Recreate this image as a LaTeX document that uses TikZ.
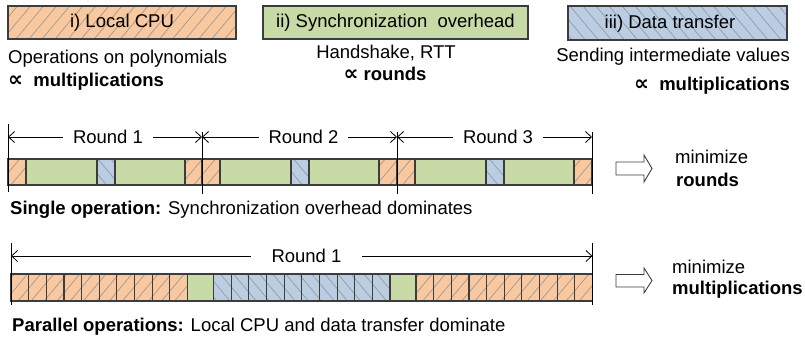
\documentclass[tikz,border=0pt]{standalone}
\usepackage{fontspec}
\setmainfont{Liberation Sans}
\newfontfamily\symfont{DejaVu Sans}
\usetikzlibrary{patterns.meta,arrows.meta}
\definecolor{cpu}{HTML}{F9C89E}
\definecolor{sync}{HTML}{C8DAA6}
\definecolor{xfer}{HTML}{BBCDE3}
\definecolor{edgec}{HTML}{3C3C3C}
\definecolor{hatch}{HTML}{9A9A9A}
\newcommand{\propsym}{{\fontsize{21}{22}\symfont\bfseries ∝}}
\tikzset{
  cpubox/.style={draw=edgec, line width=1.1pt, preaction={fill=cpu},
    pattern={Lines[angle=50,distance=10pt,line width=0.7pt]}, pattern color=hatch},
  syncbox/.style={draw=edgec, line width=1.1pt, fill=sync},
  xferbox/.style={draw=edgec, line width=1.1pt, preaction={fill=xfer},
    pattern={Lines[angle=-50,distance=10pt,line width=0.7pt]}, pattern color=hatch},
  txt/.style={inner sep=0pt, font=\fontsize{18.5}{22}\selectfont},
  dimline/.style={line width=0.8pt, {Straight Barb[length=6pt,width=11pt]}-{Straight Barb[length=6pt,width=11pt]}},
  tickline/.style={line width=0.9pt, draw=black},
  roundlbl/.style={txt, fill=white, inner xsep=10pt, inner ysep=3pt},
  bigarrow/.style={draw=edgec, line width=0.9pt, fill=white},
}
\begin{document}
\begin{tikzpicture}[x=1pt,y=-1pt]
\useasboundingbox (0,0) rectangle (805,338);

% legend boxes
\node[cpubox, txt, minimum width=228pt, minimum height=33pt] (cpu) at (122,22.5) {i) Local CPU};
\node[syncbox, txt, minimum width=265pt, minimum height=33pt] (sync) at (395.5,22.5) {ii) Synchronization\ \ overhead};
\node[xferbox, minimum width=219pt, minimum height=34pt] (xfer) at (677.5,23) {};
\node[txt] (xferlbl) at (670,23.5) {iii) Data transfer};

% descriptions
\node[txt, anchor=base west] (d1a) at (8,63) {Operations on polynomials};
\node[txt, anchor=base west] (d1b) at (8,86) {\propsym\ \ \textbf{multiplications}};
\node[txt, anchor=base] (d2a) at (386,58) {Handshake, RTT};
\node[txt, anchor=base] (d2b) at (385,80) {\propsym\ \textbf{rounds}};
\node[txt, anchor=base east] (d3a) at (790,61) {Sending intermediate values};
\node[txt, anchor=base east] (d3b) at (790,90) {\propsym\ \ \textbf{multiplications}};

% ---- row 1 ----
\foreach \o in {8,202,397}{
  \path[cpubox]  (\o,159) rectangle ({\o+18},185);
  \path[syncbox] ({\o+18},159) rectangle ({\o+89},185);
  \path[xferbox] ({\o+89},159) rectangle ({\o+107},185);
  \path[syncbox] ({\o+107},159) rectangle ({\o+177},185);
  \path[cpubox]  ({\o+177},159) rectangle ({\o+195},185);
}
\coordinate (s0) at (8,137);
\coordinate (s1) at (202,137);
\coordinate (s2) at (397,137);
\coordinate (s3) at (592,137);
\draw[tickline] (8,124) -- (8,192);
\draw[tickline] (202,132) -- (202,194);
\draw[tickline] (397,132) -- (397,194);
\draw[tickline] (592,132) -- (592,194);
\draw[dimline] (s0) -- (s1);
\draw[dimline] (s1) -- (s2);
\draw[dimline] (s2) -- (s3);
\node[roundlbl] (r1) at (108,137) {Round 1};
\node[roundlbl] (r2) at (303.5,137) {Round 2};
\node[roundlbl] (r3) at (498,137) {Round 3};

\draw[bigarrow] (616,162) -- (644,162) -- (644,155) -- (652,168.5) -- (644,182) -- (644,175) -- (616,175) -- cycle;
\node[txt, anchor=base west] (m1a) at (675,163) {minimize};
\node[txt, anchor=base west] (m1b) at (676,186) {\textbf{rounds}};

\node[txt, anchor=base west] (cap1) at (10,214) {\textbf{Single operation:} Synchronization overhead dominates};

% ---- row 2 ----
\foreach \i in {0,...,9}{
  \path[cpubox] ({11+\i*17.65},274) rectangle ({11+(\i+1)*17.65},301);
  \path[xferbox] ({213.5+\i*17.65},274) rectangle ({213.5+(\i+1)*17.65},301);
  \path[cpubox] ({416+\i*17.65},274) rectangle ({416+(\i+1)*17.65},301);
}
\path[syncbox] (187.5,274) rectangle (213.5,301);
\path[syncbox] (390,274) rectangle (416,301);
\coordinate (t0) at (11,256);
\coordinate (t1) at (592.5,256);
\draw[tickline] (11,243) -- (11,305);
\draw[tickline] (592.5,243) -- (592.5,305);
\draw[dimline] (t0) -- (t1);
\node[roundlbl, inner xsep=21pt] (r21) at (306.5,256) {Round 1};

\draw[bigarrow] (616,274.5) -- (644,274.5) -- (644,268) -- (652,280.5) -- (644,293) -- (644,287) -- (616,287) -- cycle;
\node[txt, anchor=base west] (m2a) at (672,273) {minimize};
\node[txt, anchor=base west] (m2b) at (672,294) {\textbf{multiplications}};

\node[txt, anchor=base west] (cap2) at (12,331) {\textbf{Parallel operations:} Local CPU and data transfer dominate};
\end{tikzpicture}
\end{document}
